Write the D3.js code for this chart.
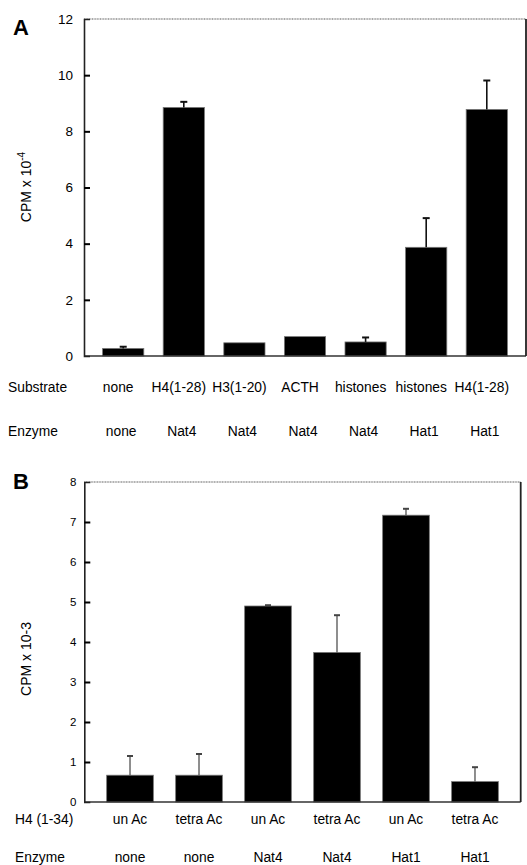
<!DOCTYPE html>
<html><head><meta charset="utf-8">
<script src="https://cdn.jsdelivr.net/npm/d3@7"></script>
<style>
body{margin:0;background:#fff;}
svg text{font-family:"Liberation Sans",Arial,Helvetica,sans-serif;fill:#000;}
</style></head>
<body>
<svg id="chart" width="527" height="865"></svg>
<script>
// Panel A data
const substratesA = ["none","H4(1-28)","H3(1-20)","ACTH","histones","histones","H4(1-28)"];
const enzymesA = ["none","Nat4","Nat4","Nat4","Nat4","Hat1","Hat1"];
const valuesA = [0.27, 8.85, 0.47, 0.69, 0.50, 3.87, 8.78];
const errorsA = [0.06, 0.20, 0, 0, 0.16, 1.04, 1.03];
const ticksA = [0,2,4,6,8,10,12];

// Panel B data
const peptidesB = ["un Ac","tetra Ac","un Ac","tetra Ac","un Ac","tetra Ac"];
const enzymesB = ["none","none","Nat4","Nat4","Hat1","Hat1"];
const valuesB = [0.67, 0.67, 4.90, 3.74, 7.17, 0.51];
const errorsB = [0.48, 0.53, 0.02, 0.93, 0.16, 0.36];
const ticksB = [0,1,2,3,4,5,6,7,8];

const svg = d3.select("#chart");

function panel(cfg){
  const g = svg.append("g");
  const idx = cfg.values.map((d,i)=>i);
  const x = d3.scaleBand().domain(idx).range([cfg.left,cfg.right])
    .paddingInner(cfg.pi).paddingOuter(cfg.po);
  const y = d3.scaleLinear().domain(cfg.domain).range([cfg.bottom,cfg.top]);

  // bars
  g.selectAll("rect.bar").data(idx).enter().append("rect")
    .attr("x",i=>x(i)).attr("width",x.bandwidth())
    .attr("y",i=>y(cfg.values[i])).attr("height",i=>y(0)-y(cfg.values[i]))
    .attr("fill","#000").attr("stroke","#777").attr("stroke-width",0.8);

  // error bars
  const eg = g.selectAll("g.err").data(idx.filter(i=>cfg.errors[i]>0)).enter().append("g");
  eg.append("line")
    .attr("x1",i=>x(i)+x.bandwidth()/2).attr("x2",i=>x(i)+x.bandwidth()/2)
    .attr("y1",i=>y(cfg.values[i])).attr("y2",i=>y(cfg.values[i]+cfg.errors[i]))
    .attr("stroke",cfg.errColor).attr("stroke-width",cfg.errW);
  eg.append("line")
    .attr("x1",i=>x(i)+x.bandwidth()/2-cfg.cap).attr("x2",i=>x(i)+x.bandwidth()/2+cfg.cap)
    .attr("y1",i=>y(cfg.values[i]+cfg.errors[i])).attr("y2",i=>y(cfg.values[i]+cfg.errors[i]))
    .attr("stroke",cfg.errColor).attr("stroke-width",2);

  // frame
  g.append("line").attr("x1",cfg.left).attr("x2",cfg.right).attr("y1",cfg.top).attr("y2",cfg.top)
    .attr("stroke","#555").attr("stroke-width",1.2).attr("stroke-dasharray","1,0.6");
  g.append("line").attr("x1",cfg.left).attr("x2",cfg.right).attr("y1",cfg.bottom).attr("y2",cfg.bottom)
    .attr("stroke","#333").attr("stroke-width",1.5);
  g.append("line").attr("x1",cfg.right).attr("x2",cfg.right).attr("y1",cfg.top).attr("y2",cfg.bottom)
    .attr("stroke","#222").attr("stroke-width",1.8);

  // y axis with inward ticks
  const ax = d3.axisLeft(y).tickValues(cfg.ticks).tickSize(-6).tickPadding(cfg.tickPad).tickFormat(d3.format("d"));
  const ag = g.append("g").attr("transform",`translate(${cfg.left},0)`).call(ax);
  ag.select(".domain").attr("stroke","#222").attr("stroke-width",1.6);
  ag.selectAll(".tick line").attr("stroke","#000").attr("stroke-width",2);
  ag.selectAll(".tick text").style("font-size",cfg.tickFont+"px")
    .style("font-family",'"Liberation Sans",Arial,sans-serif').attr("fill","#000");
  ag.selectAll(".tick").filter(d=>d===cfg.domain[0]||d===cfg.domain[1]).select("line").remove();

  // y title
  const t = g.append("text").attr("transform",`translate(${cfg.titleX},${cfg.titleY}) rotate(-90)`)
    .attr("text-anchor","middle").attr("dy","0.35em").style("font-size","14px");
  t.append("tspan").text("CPM x 10");
  if(cfg.sup){ t.append("tspan").attr("dy","-6").style("font-size","10px").text(cfg.sup); }
  else { t.append("tspan").text(cfg.exp); }

  // panel letter
  g.append("text").attr("x",cfg.letterX).attr("y",cfg.letterY).text(cfg.letter)
    .style("font-size","22px").style("font-weight","bold");

  // category rows
  cfg.rows.forEach(r=>{
    g.append("text").attr("x",r.labelX).attr("y",r.y).attr("dy","0.35em").text(r.name).style("font-size","13.8px");
    g.selectAll(null).data(idx).enter().append("text")
      .attr("x",i=>x(i)+x.bandwidth()/2+r.dx).attr("y",r.y).attr("dy","0.35em")
      .attr("text-anchor","middle").style("font-size","13.8px").text(i=>r.labels[i]);
  });
}

panel({values:valuesA, errors:errorsA, ticks:ticksA, domain:[0,12],
  left:84, right:526, top:19, bottom:356, pi:0.32, po:0.307,
  errColor:"#111", errW:1.6, cap:3.5, tickPad:11, tickFont:13.5,
  titleX:26, titleY:187, sup:"-4", letter:"A", letterX:13, letterY:35,
  rows:[{name:"Substrate", labels:substratesA, y:387, labelX:8, dx:-5},
        {name:"Enzyme", labels:enzymesA, y:431, labelX:8, dx:-2}]});

panel({values:valuesB, errors:errorsB, ticks:ticksB, domain:[0,8],
  left:84.3, right:520.7, top:482, bottom:802, pi:0.323, po:0.324,
  errColor:"#444", errW:1.2, cap:3, tickPad:8, tickFont:11.5,
  titleX:26, titleY:659, exp:"-3", letter:"B", letterX:13, letterY:489,
  rows:[{name:"H4 (1-34)", labels:peptidesB, y:819, labelX:15, dx:0},
        {name:"Enzyme", labels:enzymesB, y:857, labelX:15, dx:0}]});
</script>
</body></html>
